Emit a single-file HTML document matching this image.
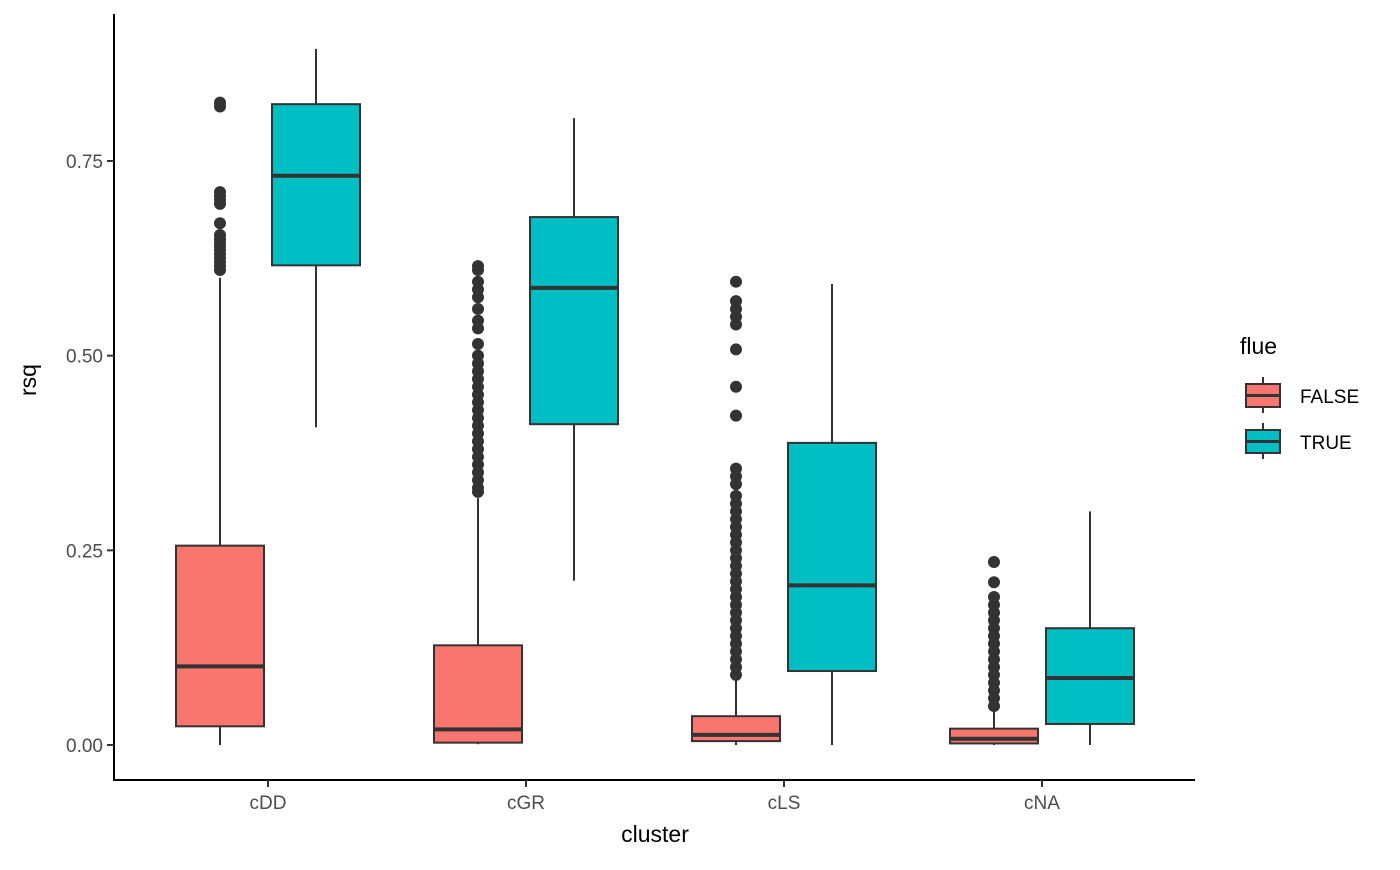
<!DOCTYPE html>
<html><head><meta charset="utf-8"><style>
body{margin:0;background:#fff}
svg text{font-family:"Liberation Sans","DejaVu Sans",sans-serif}
</style></head><body>
<svg id="chart" width="1400" height="865" viewBox="0 0 1400 865" xmlns="http://www.w3.org/2000/svg">
<g id="marks"></g>
<line x1="114" y1="14" x2="114" y2="781" stroke="#000" stroke-width="2"/>
<line x1="113" y1="780" x2="1195" y2="780" stroke="#000" stroke-width="2"/>
<g id="axes"></g>
<text x="36" y="380" font-size="23" text-anchor="middle" transform="rotate(-90 36 380)" fill="#000">rsq</text>
<text x="655" y="842" font-size="23" text-anchor="middle" fill="#000">cluster</text>
<g>
<text x="1240" y="354" font-size="23">flue</text>
<g>
<line x1="1263" y1="377" x2="1263" y2="413" stroke="#333" stroke-width="2"/>
<rect x="1246" y="384" width="34" height="23" fill="#F8766D" stroke="#333" stroke-width="2"/>
<line x1="1246" y1="395.5" x2="1280" y2="395.5" stroke="#333" stroke-width="3"/>
<text x="1300" y="403" font-size="19" fill="#000">FALSE</text></g>
<g>
<line x1="1263" y1="423" x2="1263" y2="459" stroke="#333" stroke-width="2"/>
<rect x="1246" y="430" width="34" height="23" fill="#00BFC4" stroke="#333" stroke-width="2"/>
<line x1="1246" y1="441.5" x2="1280" y2="441.5" stroke="#333" stroke-width="3"/>
<text x="1300" y="449" font-size="19" fill="#000">TRUE</text></g>
</g>
</svg>
<script>
const categories=["cDD","cGR","cLS","cNA"];
const groups=["FALSE","TRUE"];
const colors=["#F8766D","#00BFC4"];
// [low whisker, q1, median, q3, high whisker]
const statsFalse=[[0,0.024,0.101,0.256,0.60],[0.001,0.003,0.02,0.128,0.317],[0,0.005,0.013,0.037,0.088],[0,0.002,0.008,0.021,0.05]];
const statsTrue=[[0.408,0.616,0.731,0.823,0.894],[0.211,0.412,0.587,0.678,0.805],[0,0.095,0.205,0.388,0.592],[0,0.027,0.086,0.150,0.30]];
const outFalse=[
[0.61,0.615,0.62,0.625,0.63,0.635,0.64,0.645,0.65,0.655,0.67,0.695,0.70,0.705,0.71,0.82,0.825],
[0.325,0.33,0.34,0.35,0.36,0.37,0.38,0.39,0.40,0.41,0.42,0.43,0.44,0.45,0.46,0.47,0.48,0.49,0.50,0.515,0.535,0.545,0.56,0.575,0.585,0.595,0.61,0.615],
[0.09,0.10,0.11,0.12,0.13,0.14,0.15,0.16,0.17,0.18,0.19,0.20,0.21,0.22,0.23,0.24,0.25,0.26,0.27,0.28,0.29,0.30,0.31,0.32,0.335,0.345,0.355,0.423,0.46,0.508,0.54,0.55,0.56,0.57,0.595],
[0.05,0.06,0.07,0.08,0.09,0.10,0.11,0.12,0.13,0.14,0.15,0.16,0.17,0.18,0.19,0.209,0.235]];
const outTrue=[[],[],[],[]];
const yTicks=[0,0.25,0.5,0.75];
const yTickLabels=["0.00","0.25","0.50","0.75"];
const NS="http://www.w3.org/2000/svg";
const y=v=>745-v*778.67;
const x=i=>268+i*258;
const mk=(t,a,p)=>{const e=document.createElementNS(NS,t);for(const k in a)e.setAttribute(k,a[k]);p.appendChild(e);return e;};
const marks=document.getElementById('marks'),axes=document.getElementById('axes');
function box(s,outs,cx,col,name){
  const g=mk('g',{},marks);
  
  
  mk('line',{x1:cx,x2:cx,y1:y(s[0]),y2:y(s[1]),stroke:'#333','stroke-width':2},g);
  mk('line',{x1:cx,x2:cx,y1:y(s[3]),y2:y(s[4]),stroke:'#333','stroke-width':2},g);
  mk('rect',{x:cx-44,y:y(s[3]),width:88,height:y(s[1])-y(s[3]),fill:col,stroke:'#333','stroke-width':2},g);
  mk('line',{x1:cx-44,x2:cx+44,y1:y(s[2]),y2:y(s[2]),stroke:'#333','stroke-width':4},g);
  outs.forEach(v=>{const c=mk('circle',{cx:cx,cy:y(v),r:6,fill:'#333'},g);
    
    });
}
categories.forEach((c,i)=>{
  box(statsFalse[i],outFalse[i],x(i)-48,colors[0],'box-'+c+'-false');
  box(statsTrue[i],outTrue[i],x(i)+48,colors[1],'box-'+c+'-true');
  mk('line',{x1:x(i),x2:x(i),y1:780,y2:787,stroke:'#333','stroke-width':2},axes);
  const t=mk('text',{x:x(i),y:809,'font-size':19,'text-anchor':'middle',fill:'#4d4d4d'},axes);t.textContent=c;
  
  
});
yTicks.forEach((v,i)=>{
  mk('line',{x1:107,x2:114,y1:y(v),y2:y(v),stroke:'#333','stroke-width':2},axes);
  const t=mk('text',{x:103,y:y(v)+7,'font-size':19,'text-anchor':'end',fill:'#4d4d4d'},axes);t.textContent=yTickLabels[i];
  
  
});
</script>
</body></html>
